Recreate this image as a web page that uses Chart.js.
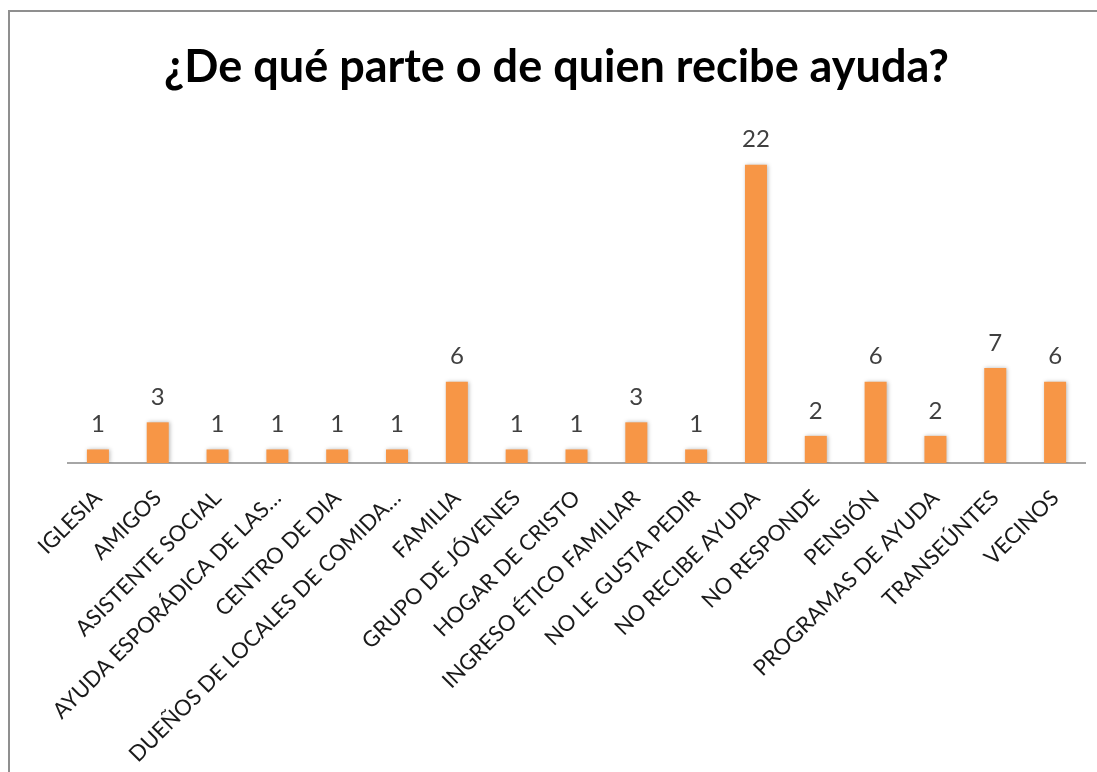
<!DOCTYPE html>
<html>
<head>
<meta charset="utf-8">
<script src="https://cdn.jsdelivr.net/npm/chart.js@4"></script>
<style>
    body { margin: 0; background: #fff; }
    #frame { position: absolute; left: 8px; top: 10px; width: 1100px; height: 770px;
             border-top: 2px solid #8f8f8f; border-left: 2px solid #8f8f8f; }
    #wrap { position: absolute; left: 0; top: 0; width: 1097px; height: 772px; }
</style>
</head>
<body>
<div id="frame"></div>
<div id="wrap"><canvas id="ayudaChart"></canvas></div>
<script>
// Data
const chartTitle = "¿De qué parte o de quien recibe ayuda?";
const categories = ["IGLESIA", "AMIGOS", "ASISTENTE SOCIAL", "AYUDA ESPORÁDICA DE LAS…", "CENTRO DE DIA",
    "DUEÑOS DE LOCALES DE COMIDA…", "FAMILIA", "GRUPO DE JÓVENES", "HOGAR DE CRISTO",
    "INGRESO ÉTICO FAMILIAR", "NO LE GUSTA PEDIR", "NO RECIBE AYUDA", "NO RESPONDE", "PENSIÓN",
    "PROGRAMAS DE AYUDA", "TRANSEÚNTES", "VECINOS"];
const counts = [1, 3, 1, 1, 1, 1, 6, 1, 1, 3, 1, 22, 2, 6, 2, 7, 6];
const yMax = 25;

const fontFamily = "Lato, 'Open Sans', sans-serif";

// Fit the title to the width it has in the picture
const mctx = document.createElement("canvas").getContext("2d");
mctx.font = "bold 48px " + fontFamily;
const titleSize = Math.round(48 * 787 / mctx.measureText(chartTitle).width);

// Value labels above each bar
const valueLabels = {
    id: "valueLabels",
    afterDatasetsDraw(chart) {
        const ctx = chart.ctx;
        const meta = chart.getDatasetMeta(0);
        ctx.save();
        ctx.font = "24px " + fontFamily;
        ctx.fillStyle = "#404040";
        ctx.textAlign = "center";
        ctx.textBaseline = "bottom";
        meta.data.forEach((bar, i) => {
            ctx.fillText(counts[i], bar.x, bar.y - 13);
        });
        ctx.restore();
    }
};

// Soft shadow round the bars
const barShadow = {
    id: "barShadow",
    beforeDatasetDraw(chart) {
        const ctx = chart.ctx;
        ctx.save();
        ctx.shadowColor = "rgba(0,0,0,0.28)";
        ctx.shadowBlur = 4;
        ctx.shadowOffsetX = 1;
        ctx.shadowOffsetY = 0;
    },
    afterDatasetDraw(chart) {
        chart.ctx.restore();
    }
};

new Chart(document.getElementById("ayudaChart"), {
    type: "bar",
    data: {
        labels: categories,
        datasets: [{
            data: counts,
            backgroundColor: "#f79646",
            barPercentage: 0.46,
            categoryPercentage: 0.8
        }]
    },
    plugins: [barShadow, valueLabels],
    options: {
        responsive: true,
        maintainAspectRatio: false,
        animation: false,
        layout: {
            padding: { left: 28, right: 12, top: 0, bottom: 0 }
        },
        plugins: {
            legend: { display: false },
            tooltip: { enabled: false },
            title: {
                display: true,
                text: chartTitle,
                color: "#000",
                font: { family: fontFamily, size: titleSize, weight: "bold" },
                padding: { top: 40, bottom: 30 }
            }
        },
        scales: {
            x: {
                grid: { display: false, drawTicks: false },
                border: { display: true, color: "#a6a6a6", width: 2 },
                ticks: {
                    color: "#1a1a1a",
                    font: { family: fontFamily, size: 22 },
                    maxRotation: 45,
                    minRotation: 45,
                    padding: 22,
                    autoSkip: false
                },
                afterFit(scale) { scale.height = 309; }
            },
            y: {
                min: 0,
                max: yMax,
                grid: { display: false },
                border: { display: false },
                ticks: { display: false },
                afterFit(scale) { scale.width = 40; }
            }
        }
    }
});
</script>
</body>
</html>
